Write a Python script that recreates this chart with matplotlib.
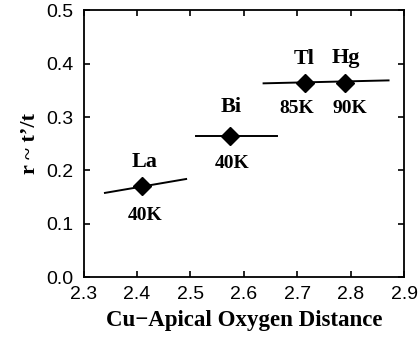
import matplotlib
matplotlib.use("Agg")
import matplotlib.pyplot as plt

# data
compounds = ["La", "Bi", "Tl", "Hg"]
distance = [2.41, 2.575, 2.715, 2.79]
ratio = [0.170, 0.265, 0.363, 0.363]
tc_labels = ["40K", "40K", "85K", "90K"]

# short fit segments through the points
seg_x = [[2.34, 2.492], [2.511, 2.662], [2.637, 2.871]]
seg_y = [[0.158, 0.184], [0.265, 0.265], [0.363, 0.3685]]

# label offsets (data units)
name_x = [2.414, 2.577, 2.7125, 2.7906]
name_dy = [0.036, 0.0437, 0.0355, 0.0385]
tc_x = [2.4157, 2.579, 2.70, 2.799]
tc_dy = [0.039, 0.0355, 0.031, 0.031]

serif = ["Liberation Serif", "DejaVu Serif"]
sans = ["Liberation Sans", "DejaVu Sans"]

fig = plt.figure(figsize=(4.2, 3.37), dpi=100)
ax = fig.add_axes([0.199, 0.177, 0.763, 0.793])

for xs, ys in zip(seg_x, seg_y):
    ax.plot(xs, ys, color="black", lw=1.4)
ax.plot(distance, ratio, linestyle="none", marker="D", color="black", markersize=9)

for nx, y, name, dy in zip(name_x, ratio, compounds, name_dy):
    ax.text(nx, y + dy, name, ha="center", va="baseline", fontsize=16,
            fontweight="bold", family=serif)
for tx, y, tc, dy in zip(tc_x, ratio, tc_labels, tc_dy):
    ax.text(tx, y - dy, tc, ha="center", va="top", fontsize=14,
            fontweight="bold", family=serif)

ax.set_xlim(2.3, 2.9)
ax.set_ylim(0.0, 0.5)
ax.set_xticks([2.3, 2.4, 2.5, 2.6, 2.7, 2.8, 2.9])
ax.set_yticks([0.0, 0.1, 0.2, 0.3, 0.4, 0.5])
ax.xaxis.set_major_formatter(matplotlib.ticker.FormatStrFormatter("%.1f"))
ax.yaxis.set_major_formatter(matplotlib.ticker.FormatStrFormatter("%.1f"))
ax.tick_params(direction="in", top=True, right=True, length=4, width=1.2,
               labelsize=14)
ax.tick_params(axis="x", pad=6)
ax.tick_params(axis="y", pad=7)
for lab in ax.get_xticklabels() + ax.get_yticklabels():
    lab.set_family(sans)
for sp in ax.spines.values():
    sp.set_linewidth(1.3)

ax.set_xlabel("Cu\u2212Apical Oxygen Distance", fontsize=16.5, fontweight="bold",
              family=serif, labelpad=5)
ax.set_ylabel("r ~ t\u2019/t", fontsize=16, fontweight="bold", family=serif,
              labelpad=5)

fig.savefig("out.png", dpi=100)
